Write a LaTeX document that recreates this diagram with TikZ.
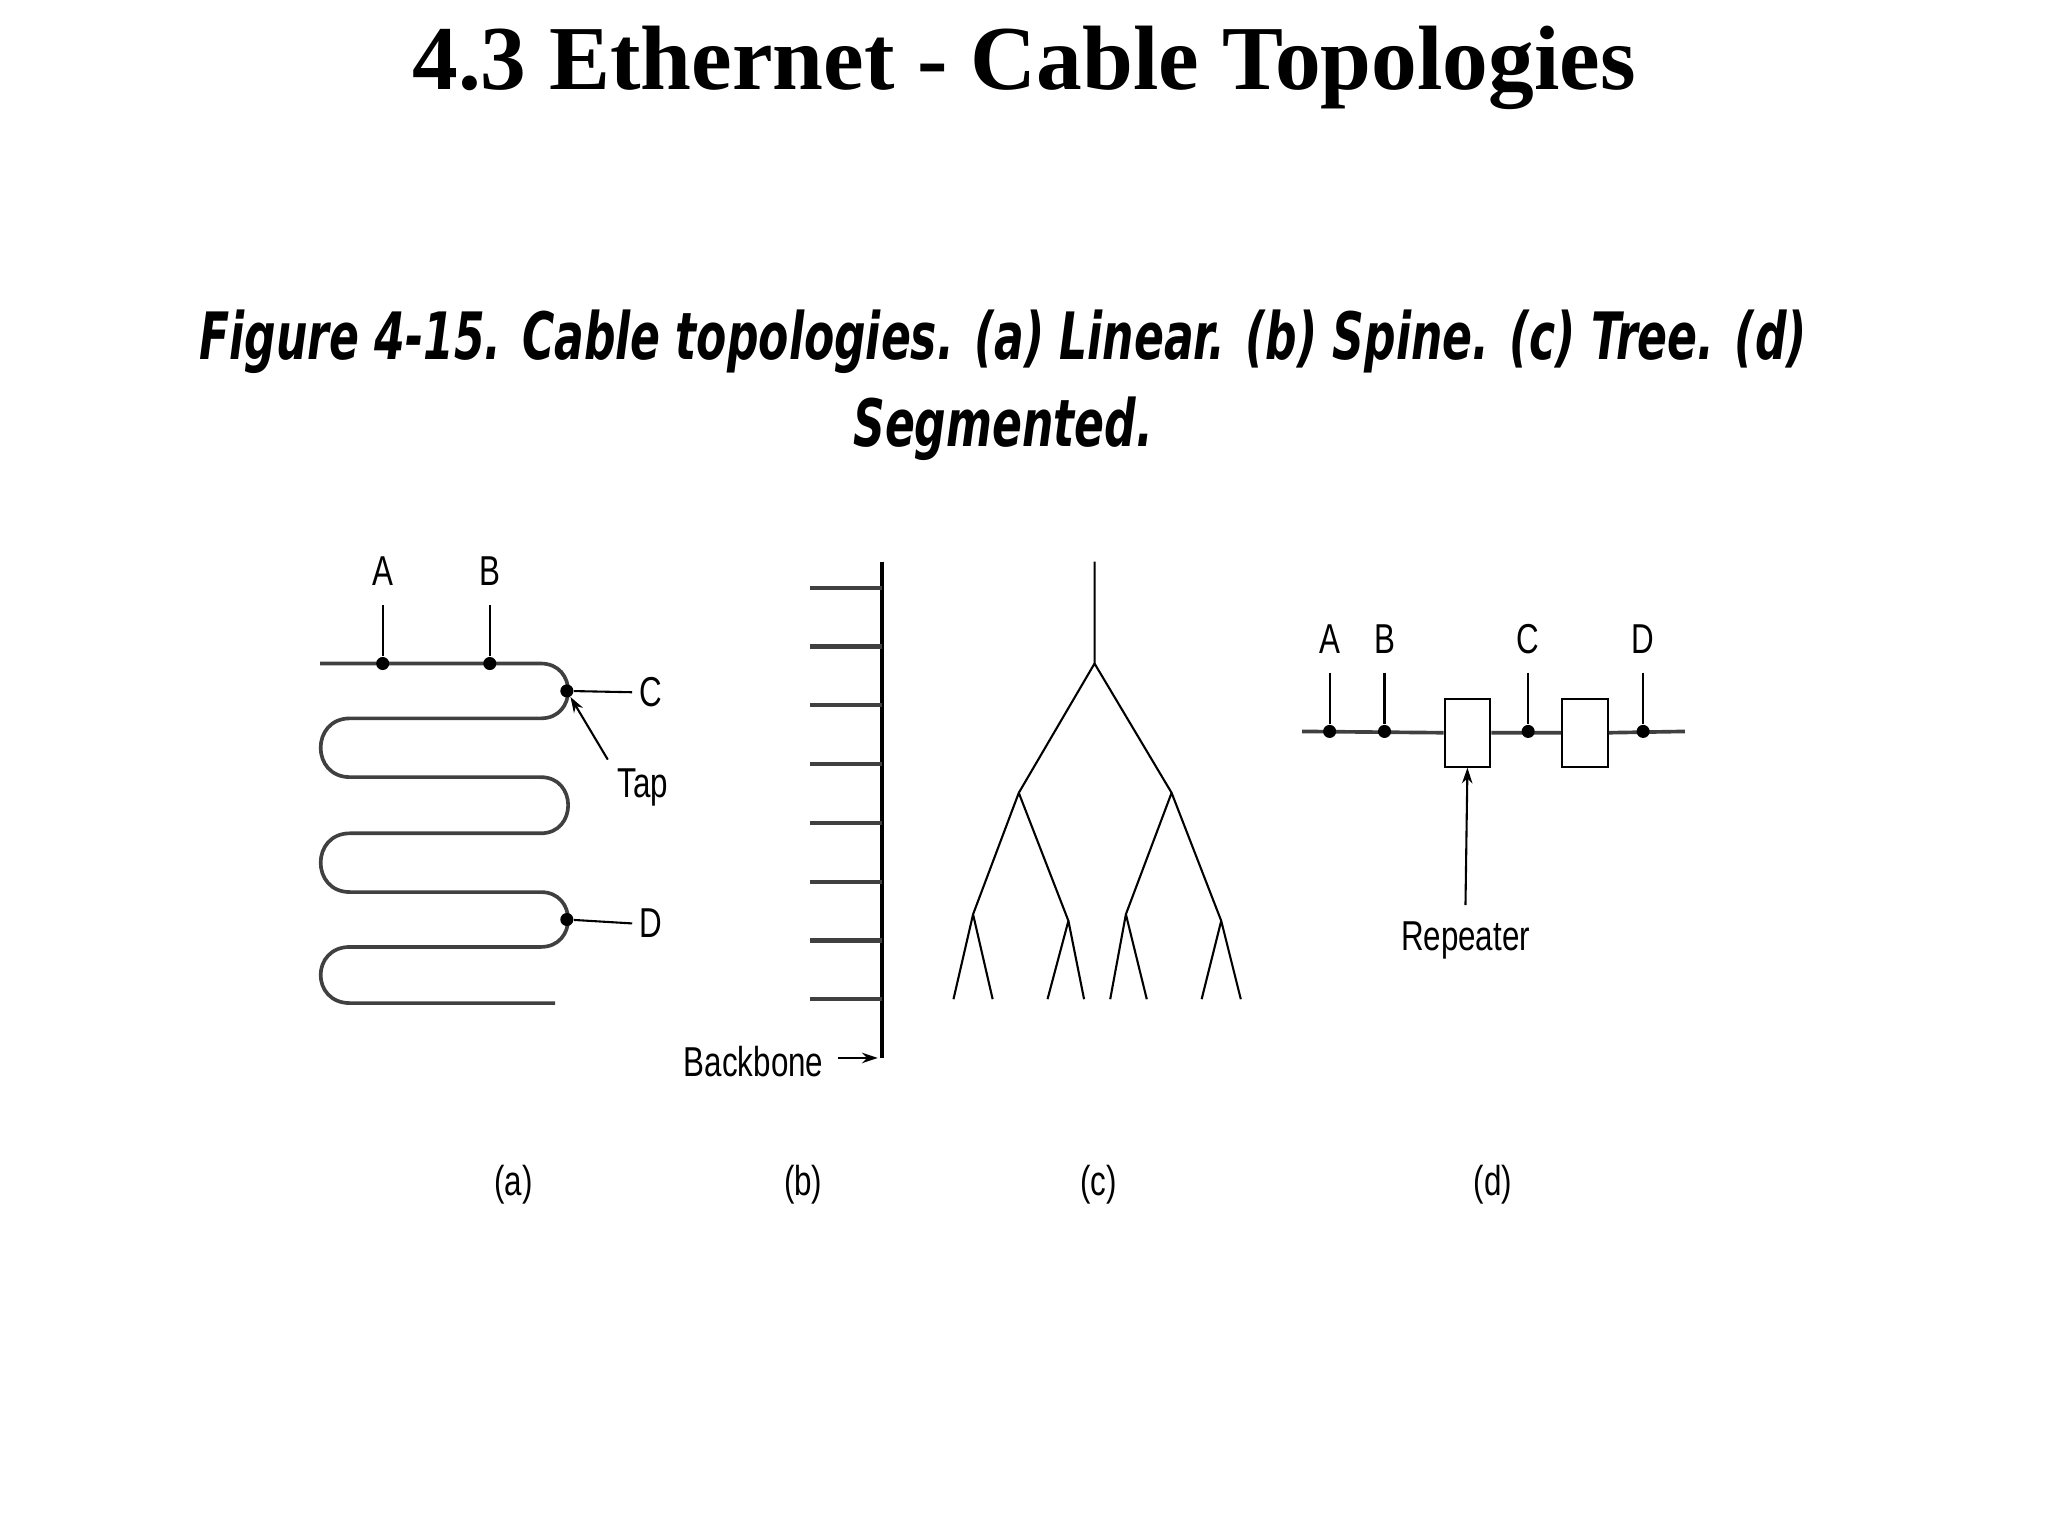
\documentclass[tikz,border=0pt]{standalone}
\usepackage{fontspec}
\setmainfont{Liberation Serif}
\newfontfamily\capfont{DejaVu Sans Condensed}
\newfontfamily\lblfont{Liberation Sans}
\usetikzlibrary{arrows.meta}
\begin{document}
\begin{tikzpicture}[x=0.5pt,y=-0.5pt,
  cab/.style={line width=1.4pt,black!75},
  thin/.style={line width=0.8pt},
  dot/.style={circle,fill=black,inner sep=0pt,minimum size=5pt},
  lbl/.style={font=\lblfont\fontsize{16}{16}\selectfont,xscale=0.75},
  arr/.style={thin,-{Stealth[length=6pt,width=4pt]}}]
\useasboundingbox (0,0) rectangle (1568,1176);
\node (title) at (784,52) {\fontsize{35}{40}\selectfont\bfseries 4.3 Ethernet - Cable Topologies};
\node[align=center,xscale=0.75,font=\capfont\bfseries\itshape\fontsize{25}{33}\selectfont] (cap) at (768,295)
 {Figure 4-15. Cable topologies. (a) Linear. (b) Spine. (c) Tree. (d)\\Segmented.};
% (a)
\draw[cab] (245,508) -- (414,508) .. controls (442,508) and (442,550) .. (414,550) -- (268,550)
  .. controls (238,550) and (238,595) .. (268,595) -- (414,595)
  .. controls (442,595) and (442,638) .. (414,638) -- (268,638)
  .. controls (238,638) and (238,683) .. (268,683) -- (414,683)
  .. controls (442,683) and (442,725) .. (414,725) -- (268,725)
  .. controls (238,725) and (238,768) .. (268,768) -- (425,768);
\node[dot] (a1) at (293,508) {}; \node[lbl] (aA) at (293,437) {A};
\node[dot] (a2) at (375,508) {}; \node[lbl] (aB) at (375,437) {B};
\draw[thin] (aA.south) ++(0,8) -- (a1); \draw[thin] (aB.south) ++(0,8) -- (a2);
\node[dot] (a3) at (434,529) {}; \node[lbl] (aC) at (498,530) {C};
\node[dot] (a4) at (434,704) {}; \node[lbl] (aD) at (498,707) {D};
\draw[thin] (a3) -- (aC.west); \draw[thin] (a4) -- (aD.west);
\node[lbl] (tap) at (492,603) {Tap};
\draw[arr] (tap.north west) ++(-2,0) -- (a3);
\node[lbl] at (393,907) {(a)};
% (b)
\coordinate (bt) at (675,430); \coordinate (bb) at (675,810);
\draw[line width=1.6pt] (bt) -- (bb);
\foreach \y in {450,495,540,585,630,675,720,765} \draw[line width=1.6pt,black!75] (620,\y) -- (675,\y);
\node[lbl] (bk) at (577,813) {Backbone};
\draw[arr] (bk.east) ++(6,-3) -- (672,810);
\node[lbl] at (615,907) {(b)};
% (c)
\coordinate (c0) at (838,430); \coordinate (c1) at (838,508);
\coordinate (c2) at (780,607); \coordinate (c3) at (897,607);
\coordinate (c4) at (745,700); \coordinate (c5) at (818,705);
\coordinate (c6) at (862,700); \coordinate (c7) at (935,705);
\draw[thin] (c0) -- (c1) -- (c2) -- (c4) -- (730,765) (c4) -- (760,765)
 (c2) -- (c5) -- (802,765) (c5) -- (830,765)
 (c1) -- (c3) -- (c6) -- (850,765) (c6) -- (878,765)
 (c3) -- (c7) -- (920,765) (c7) -- (950,765);
\node[lbl] at (841,907) {(c)};
% (d)
\node[draw,thin,minimum width=17.5pt,minimum height=26pt,inner sep=0pt] (r1) at (1123.5,561) {};
\node[draw,thin,minimum width=17.5pt,minimum height=26pt,inner sep=0pt] (r2) at (1213.5,561) {};
\draw[cab] (997,560) -- (r1.west) (r1.east) -- (r2.west) (r2.east) -- (1290,560);
\foreach \x/\n in {1018/A,1060/B,1170/C,1258/D}{
  \node[dot] (d\n) at (\x,560) {};
  \node[lbl] (l\n) at (\x,489) {\n};
  \draw[thin] (\x,515) -- (d\n);}
\node[lbl] (rep) at (1122,720) {Repeater};
\draw[arr] (1122,693) -- (r1.south);
\node[lbl] at (1143,907) {(d)};
\end{tikzpicture}
\end{document}
